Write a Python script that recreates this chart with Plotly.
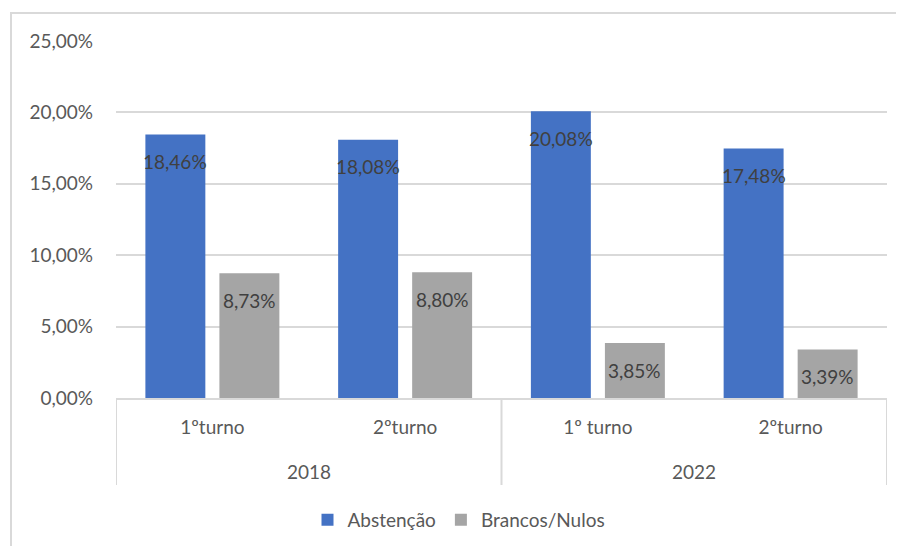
import plotly.graph_objects as go

years = ["2018", "2018", "2022", "2022"]
rounds = ["1ºturno", "2ºturno", "1º turno", "2ºturno"]
abstencao = [18.46, 18.08, 20.08, 17.48]
brancos_nulos = [8.73, 8.80, 3.85, 3.39]
y_ticks = [0, 5, 10, 15, 20, 25]
y_tick_labels = ["0,00%", "5,00%", "10,00%", "15,00%", "20,00%", "25,00%"]

def fmt(v):
    return f"{v:.2f}".replace(".", ",") + "%"

FONT = "Lato"
FS = 19
BARGAP = 0.232
BARGROUPGAP = 0.19
pos = list(range(len(rounds)))
series = [("Abstenção", abstencao, "#4472C4"),
          ("Brancos/Nulos", brancos_nulos, "#A5A5A5")]

fig = go.Figure()
for name, vals, color in series:
    fig.add_trace(go.Bar(
        name=name, x=pos, y=vals,
        marker=dict(color=color, line=dict(width=0)),
        hovertext=[fmt(v) for v in vals],
    ))

# page has an 8px body margin; figure sized so plot area lands on reference pixels
OFF = 8
W, H = 904 - OFF, 546 - OFF
L, T = 116 - OFF, 41 - OFF
R = W - (887 - OFF)
B = H - (398 - OFF)
pw = W - L - R
ph = H - T - B

def py(px_y):  # screen y -> paper y
    return (398 - px_y) / ph

def px(px_x):  # screen x -> paper x
    return (px_x - 116) / pw

annotations = []
shapes = []

# data labels, inside near the top of each bar
slot = (1 - BARGAP) / len(series)
for k, (name, vals, color) in enumerate(series):
    off = (k - (len(series) - 1) / 2) * slot
    for p, v in zip(pos, vals):
        annotations.append(dict(x=p + off, y=v, xref="x", yref="y",
                                text=fmt(v), showarrow=False,
                                yanchor="middle", yshift=-27,
                                font=dict(family=FONT, size=FS, color="#404040")))

# year group labels and dividers
groups = []
for i, yv in enumerate(years):
    if not groups or groups[-1][0] != yv:
        groups.append([yv, i, i])
    else:
        groups[-1][2] = i
for yv, a, b in groups:
    annotations.append(dict(x=(a + b) / 2, y=py(471), xref="x", yref="paper",
                            text=yv, showarrow=False, yanchor="middle",
                            font=dict(family=FONT, size=FS, color="#595959")))
bounds = [groups[0][1] - 0.5] + [g[2] + 0.5 for g in groups]
for bx in bounds:
    shapes.append(dict(type="line", xref="x", yref="paper", x0=bx, x1=bx,
                       y0=0, y1=py(485), line=dict(color="#D9D9D9", width=2)))

shapes.append(dict(
    type="rect", xref="paper", yref="paper",
    x0=px(11), x1=px(920), y0=py(560), y1=py(13),
    line=dict(color="#D9D9D9", width=2), fillcolor="rgba(0,0,0,0)",
    layer="below",
))

fig.update_layout(
    width=W, height=H,
    margin=dict(l=L, r=R, t=T, b=B, autoexpand=False),
    paper_bgcolor="white", plot_bgcolor="white",
    barmode="group", bargap=BARGAP, bargroupgap=BARGROUPGAP,
    font=dict(family=FONT, size=FS, color="#595959"),
    showlegend=True,
    legend=dict(orientation="h", x=px(459), xanchor="center",
                y=py(520), yanchor="middle",
                font=dict(family=FONT, size=FS, color="#595959"),
                traceorder="normal"),
    xaxis=dict(
        range=[-0.5, len(rounds) - 0.5], tickvals=pos, ticktext=rounds,
        showgrid=False, zeroline=False,
        showline=True, linecolor="#D9D9D9", linewidth=2,
        ticks="", ticklabelstandoff=11,
        tickfont=dict(family=FONT, size=FS, color="#595959"),
    ),
    yaxis=dict(
        range=[0, 25], tickvals=y_ticks, ticktext=y_tick_labels,
        showgrid=True, gridcolor="#D9D9D9", gridwidth=2,
        zeroline=False, showline=False, ticks="",
        ticklabelstandoff=22,
        tickfont=dict(family=FONT, size=FS, color="#595959"),
    ),
    annotations=annotations,
    shapes=shapes,
)

fig.write_html("out.html")
